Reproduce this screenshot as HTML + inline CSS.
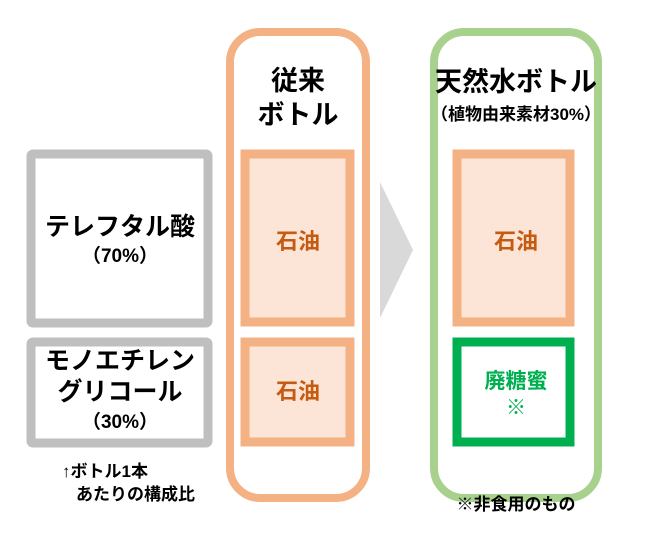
<!DOCTYPE html>
<html><head><meta charset="utf-8"><style>
body{margin:0;background:#fff;}
svg text{font-family:"Liberation Sans","Noto Sans CJK JP",sans-serif;font-weight:bold;text-anchor:middle;}
</style></head><body>
<svg width="650" height="537" viewBox="0 0 650 537" xmlns="http://www.w3.org/2000/svg">
<rect x="31" y="154" width="177" height="169" fill="#fff" stroke="#bfbfbf" stroke-width="9" rx="2"/>
<rect x="31" y="342" width="177" height="101" fill="#fff" stroke="#bfbfbf" stroke-width="9" rx="2"/>
<rect x="230" y="32" width="136" height="466" rx="30" fill="#fff" stroke="#f4b183" stroke-width="8"/>
<rect x="434" y="32" width="164" height="466" rx="30" fill="#fff" stroke="#a9d18e" stroke-width="8"/>
<polygon points="380,182 413,250 380,318" fill="#d9d9d9"/>
<rect x="245" y="154" width="105" height="168" fill="#fce4d6" stroke="#f4b183" stroke-width="9"/>
<rect x="245" y="342" width="105" height="100" fill="#fce4d6" stroke="#f4b183" stroke-width="9"/>
<rect x="457" y="154" width="113" height="168" fill="#fce4d6" stroke="#f4b183" stroke-width="9"/>
<rect x="457" y="342" width="113" height="100" fill="#fff" stroke="#00b050" stroke-width="9"/>
<text x="298" y="90" font-size="27" fill="#000">従来</text>
<text x="298" y="124" font-size="27" fill="#000">ボトル</text>
<text x="516" y="91" font-size="27" fill="#000">天然水ボトル</text>
<text x="516" y="120" font-size="17" fill="#000">（植物由来素材30%）</text>
<text x="298" y="249" font-size="22" fill="#c55a11">石油</text>
<text x="298" y="399" font-size="22" fill="#c55a11">石油</text>
<text x="516" y="249" font-size="22" fill="#c55a11">石油</text>
<text x="516" y="388" font-size="21" fill="#00b050">廃糖蜜</text>
<text x="516" y="414" font-size="20" fill="#00b050" font-weight="normal">※</text>
<text x="120" y="235" font-size="25" fill="#000">テレフタル酸</text>
<text x="120" y="262" font-size="19" fill="#000" font-weight="normal">（70%）</text>
<text x="120" y="369" font-size="25" fill="#000">モノエチレン</text>
<text x="120" y="400" font-size="25" fill="#000">グリコール</text>
<text x="120" y="428" font-size="19" fill="#000" font-weight="normal">（30%）</text>
<text x="62" y="477" font-size="17" fill="#000" style="text-anchor:start">↑ボトル1本</text>
<text x="76" y="500" font-size="17" fill="#000" style="text-anchor:start">あたりの構成比</text>
<text x="516" y="510" font-size="17" fill="#000">※非食用のもの</text>
</svg>
</body></html>
